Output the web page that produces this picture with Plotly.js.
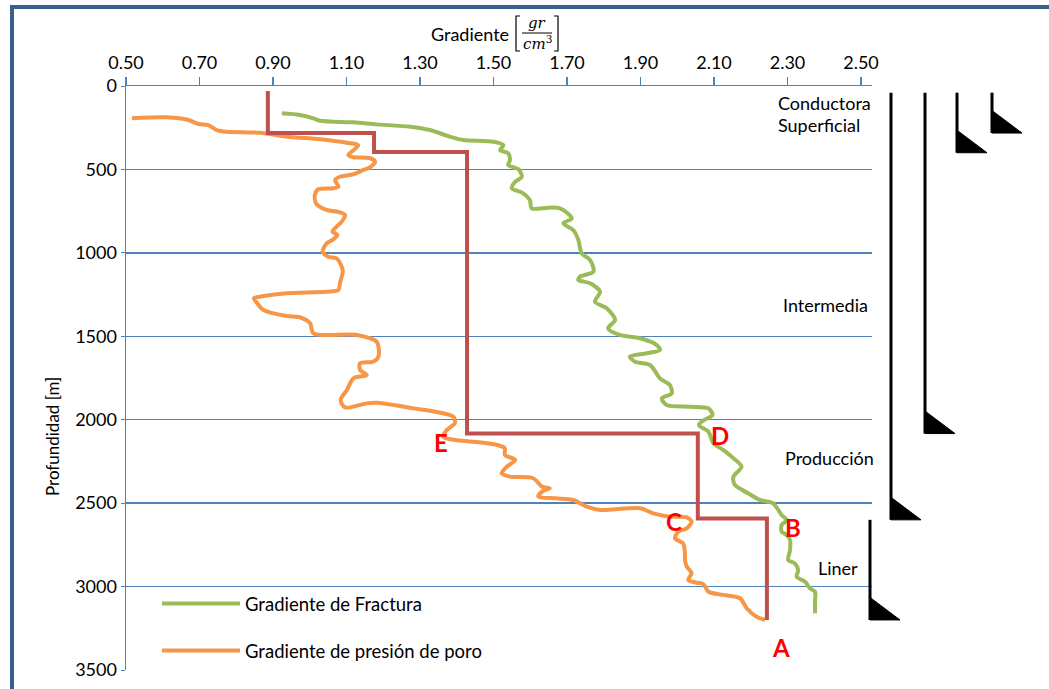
<!DOCTYPE html>
<html><head><meta charset="utf-8">
<script src="https://cdn.plot.ly/plotly-3.0.1.min.js"></script>
<style>html,body{margin:0;padding:0;background:#fff}#chart{width:1049px;height:689px}</style>
</head><body><div id="chart"></div>
<script>
// ---------------- data ----------------
const xTickVals = [0.5, 0.7, 0.9, 1.1, 1.3, 1.5, 1.7, 1.9, 2.1, 2.3, 2.5];
const yTickVals = [0, 500, 1000, 1500, 2000, 2500, 3000, 3500];

// Gradiente de Fractura (g/cm3) vs profundidad (m)
const gradFractura = [0.924,0.973,1.010,1.028,1.119,1.182,1.273,1.327,1.382,1.418,1.500,1.527,1.518,1.540,1.545,1.540,1.568,1.577,1.559,1.550,1.581,1.599,1.604,1.649,1.681,1.713,1.690,1.717,1.731,1.740,1.763,1.772,1.735,1.731,1.763,1.790,1.776,1.808,1.831,1.812,1.844,1.899,1.944,1.953,1.917,1.871,1.885,1.926,1.953,1.980,1.985,1.958,1.971,2.035,2.085,2.096,2.073,2.059,2.085,2.098,2.125,2.153,2.175,2.153,2.157,2.193,2.225,2.261,2.284,2.298,2.284,2.284,2.298,2.307,2.307,2.302,2.320,2.329,2.325,2.348,2.361,2.375,2.375,2.375];
const depthFractura = [164,174,194,208,218,230,244,264,304,324,334,354,384,403,443,473,499,544,574,613,643,683,733,729,733,793,823,863,923,1003,1043,1113,1143,1163,1182,1233,1293,1332,1402,1452,1492,1512,1552,1582,1602,1622,1652,1672,1752,1792,1842,1872,1912,1922,1932,1972,2002,2032,2072,2141,2181,2231,2282,2341,2391,2441,2481,2501,2571,2601,2631,2671,2691,2721,2781,2841,2861,2901,2941,2971,3010,3031,3080,3160];

// Gradiente de presión de poro (g/cm3) vs profundidad (m)
const gradPoro = [0.516,0.611,0.670,0.697,0.724,0.747,0.774,0.865,0.937,1.028,1.101,1.132,1.119,1.105,1.119,1.164,1.178,1.164,1.146,1.119,1.082,1.069,1.078,1.064,1.023,1.014,1.017,1.046,1.082,1.096,1.087,1.073,1.062,1.075,1.064,1.046,1.035,1.050,1.073,1.087,1.090,1.082,1.078,1.046,0.937,0.874,0.848,0.856,0.874,0.937,0.973,1.001,1.010,1.128,1.182,1.187,1.173,1.137,1.137,1.155,1.119,1.101,1.084,1.096,1.155,1.182,1.246,1.282,1.327,1.391,1.395,1.373,1.363,1.382,1.445,1.509,1.531,1.531,1.559,1.536,1.522,1.545,1.608,1.632,1.653,1.632,1.622,1.670,1.717,1.754,1.790,1.899,1.935,1.980,2.026,2.039,2.026,2.003,1.994,2.016,2.021,2.021,2.026,2.039,2.030,2.053,2.071,2.085,2.125,2.171,2.189,2.216,2.239];
const depthPoro = [194,188,204,228,234,264,274,280,304,319,340,354,384,414,427,433,454,487,503,529,544,563,604,613,619,653,703,743,757,773,813,843,873,893,919,943,993,1023,1033,1083,1113,1182,1223,1233,1242,1259,1272,1299,1342,1378,1386,1422,1482,1492,1532,1622,1652,1662,1702,1732,1752,1822,1882,1926,1902,1898,1918,1932,1946,1982,2021,2062,2102,2117,2132,2151,2171,2211,2241,2282,2321,2341,2351,2401,2411,2431,2461,2471,2481,2521,2541,2531,2561,2581,2585,2611,2651,2671,2711,2741,2801,2841,2881,2920,2960,2977,2985,3031,3050,3070,3130,3181,3200];

// Diseño de asentamiento de tuberías (escalones)
const designGrad  = [0.886, 1.175, 1.428, 2.056, 2.244];
const designDepth = [30, 282, 395, 2083, 2592, 3200];

// Tuberías de revestimiento
const casingNames = ['Conductora', 'Superficial', 'Intermedia', 'Producción', 'Liner'];
const casingTop   = [40, 40, 40, 40, 2600];
const casingShoe  = [282, 400, 2083, 2600, 3200];

// Puntos de referencia
const pointLabels = ['A', 'B', 'C', 'D', 'E'];
const pointGrad   = [2.282, 2.315, 1.991, 2.116, 1.357];
const pointDepth  = [3368, 2643, 2607, 2092, 2134];

// ---------------- layout helpers ----------------
const W = 1049, H = 689;
const L = 126, R = 872, T = 86, B = 670;
const px = x => (x - L) / (R - L);
const py = y => (B - y) / (B - T);
const FONT = 'Lato, "Open Sans", sans-serif';
const MATH = '"DejaVu Serif", "Liberation Serif", serif';
const BLUE = '#4f81bd';

// design step line built from the arrays
const stepX = [], stepY = [];
for (let i = 0; i < designGrad.length; i++) {
  stepX.push(designGrad[i], designGrad[i]);
  stepY.push(designDepth[i], designDepth[i + 1]);
}

const traces = [
  { x: gradFractura, y: depthFractura, mode: 'lines', name: 'Gradiente de Fractura',
    legendgroup: 'f', line: { color: '#9bbb59', width: 4, shape: 'spline', smoothing: 0.8 } },
  { x: gradPoro, y: depthPoro, mode: 'lines', name: 'Gradiente de presión de poro',
    legendgroup: 'p', line: { color: '#f79646', width: 4, shape: 'spline', smoothing: 0.8 } },
  { x: stepX, y: stepY, mode: 'lines', name: 'Diseño', showlegend: false,
    line: { color: '#c0504d', width: 4 } }
];

// casing glyph horizontal positions (pixels)
const casingPx = { 'Conductora': 992, 'Superficial': 957, 'Intermedia': 925, 'Producción': 891, 'Liner': 870 };
const shapes = [];
casingNames.forEach((n, i) => {
  const cx = px(casingPx[n]);
  shapes.push({ type: 'line', xref: 'paper', yref: 'y', x0: cx, x1: cx, y0: casingTop[i], y1: casingShoe[i],
    line: { color: '#000', width: 3 } });
  const h = 135, w = px(casingPx[n] + 30) - cx;
  shapes.push({ type: 'path', xref: 'paper', yref: 'y',
    path: `M${cx},${casingShoe[i] - h} L${cx},${casingShoe[i]} L${cx + w},${casingShoe[i]} Z`,
    fillcolor: '#000', line: { color: '#000', width: 1 } });
});
// outer frame
shapes.push({ type: 'rect', xref: 'paper', yref: 'paper', x0: px(12), x1: px(1100), y0: py(760), y1: py(7),
  line: { color: '#3a5f8b', width: 4 }, fillcolor: 'rgba(0,0,0,0)' });
// brackets and fraction bar of the unit in the x title
const br = (x, dir) => `M${px(x + 4 * dir)},${py(16)} L${px(x)},${py(16)} L${px(x)},${py(51)} L${px(x + 4 * dir)},${py(51)}`;
shapes.push({ type: 'path', xref: 'paper', yref: 'paper', path: br(516, 1), line: { color: '#000', width: 1.2 } });
shapes.push({ type: 'path', xref: 'paper', yref: 'paper', path: br(558, -1), line: { color: '#000', width: 1.2 } });
shapes.push({ type: 'line', xref: 'paper', yref: 'paper', x0: px(522), x1: px(552), y0: py(33), y1: py(33), line: { color: '#000', width: 1 } });

const annotations = [];
pointLabels.forEach((t, i) => annotations.push({
  x: pointGrad[i], y: pointDepth[i], xref: 'x', yref: 'y', text: '<b>' + t + '</b>', showarrow: false,
  font: { family: FONT, size: 24, color: '#ff0000' } }));
const txt = (text, x, y, anchor, size, family) => annotations.push({ text, x: px(x), y: py(y), xref: 'paper', yref: 'paper',
  xanchor: anchor, yanchor: 'middle', showarrow: false, font: { family: family || FONT, size: size || 18, color: '#000' } });
txt('Conductora', 776, 103, 'left');
txt('Superficial', 776, 125, 'left');
txt('Intermedia', 781, 305, 'left');
txt('Producción', 783, 458, 'left');
txt('Liner', 816, 568, 'left');
// x-axis title with fraction
txt('Gradiente', 511, 34, 'right', 18);
txt('<i>gr</i>', 537, 23, 'center', 15, MATH);
txt('<i>cm</i><sup>3</sup>', 537, 43, 'center', 15, MATH);
// y-axis title
annotations.push({ text: 'Profundidad [m]', x: px(52), y: py(437), xref: 'paper', yref: 'paper', textangle: -90,
  showarrow: false, xanchor: 'center', yanchor: 'middle', font: { family: FONT, size: 17, color: '#000' } });

const layout = {
  width: W, height: H,
  margin: { l: L, r: W - R, t: T, b: H - B, pad: 0 },
  paper_bgcolor: '#fff', plot_bgcolor: '#fff',
  font: { family: FONT, size: 18, color: '#000' },
  xaxis: { side: 'top', range: [0.5, 2.53], tickvals: xTickVals, tickformat: '.2f',
    ticks: 'outside', ticklen: 8, tickwidth: 1.3, tickcolor: BLUE,
    showline: true, linecolor: BLUE, linewidth: 1.5, showgrid: false, zeroline: false,
    tickfont: { family: FONT, size: 18, color: '#000' } },
  yaxis: { range: [3500, 0], tickvals: yTickVals, ticks: 'outside', ticklen: 4, tickcolor: BLUE,
    showline: true, linecolor: BLUE, linewidth: 1.5, showgrid: true, gridcolor: BLUE, gridwidth: 1.3,
    zeroline: false, tickfont: { family: FONT, size: 18, color: '#000' } },
  showlegend: true,
  legend: { x: px(157), y: py(585), xanchor: 'left', yanchor: 'top', bgcolor: 'rgba(0,0,0,0)',
    borderwidth: 0, tracegroupgap: 20, itemwidth: 78, traceorder: 'grouped',
    font: { family: FONT, size: 18.5, color: '#000' } },
  shapes, annotations
};

Plotly.newPlot('chart', traces, layout, { displayModeBar: false, staticPlot: true });
</script></body></html>
